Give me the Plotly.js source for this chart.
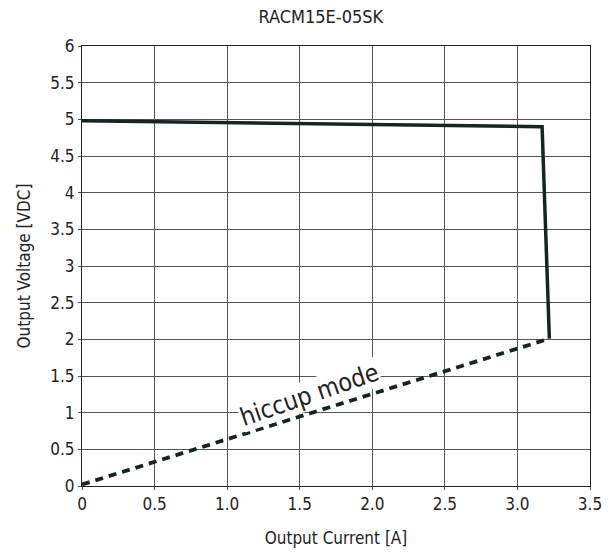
<!DOCTYPE html>
<html>
<head>
<script src="https://cdn.plot.ly/plotly-3.0.1.min.js"></script>
<style>html,body{margin:0;padding:0;background:#fff;}</style>
</head>
<body>
<div id="chart" style="width:611px;height:559px;"></div>
<script>
var chartTitle = "RACM15E-05SK";
var normalCurrent = [0, 3.17, 3.22];
var normalVoltage = [4.98, 4.90, 2.01];
var hiccupCurrent = [0, 3.22];
var hiccupVoltage = [0.02, 2.01];
var xTickVals = [0, 0.5, 1.0, 1.5, 2.0, 2.5, 3.0, 3.5];
var xTickText = ["0", "0.5", "1.0", "1.5", "2.0", "2.5", "3.0", "3.5"];
var yTickVals = [0, 0.5, 1, 1.5, 2, 2.5, 3, 3.5, 4, 4.5, 5, 5.5, 6];
var yTickText = ["0", "0.5", "1", "1.5", "2", "2.5", "3", "3.5", "4", "4.5", "5", "5.5", "6"];
var annText = "hiccup mode";
var annPos = [1.57, 1.25];

var fnt = "'DejaVu Sans Condensed', 'Liberation Sans Narrow', 'Roboto', sans-serif";
var lineColor = "#172424";

var traces = [
  {x: normalCurrent, y: normalVoltage, mode: "lines", line: {color: lineColor, width: 3.5}, hoverinfo: "none"},
  {x: hiccupCurrent, y: hiccupVoltage, mode: "lines", line: {color: lineColor, width: 3.8, dash: "8px,6px"}, hoverinfo: "none"}
];

var layout = {
  width: 611, height: 559,
  margin: {l: 82, r: 21, t: 46, b: 73},
  paper_bgcolor: "#fff", plot_bgcolor: "#fff",
  showlegend: false,
  font: {family: fnt, color: "#222", size: 16},
  title: {text: chartTitle, x: 0.525, xanchor: "center", y: 0.97, yanchor: "middle", font: {family: fnt, size: 18, color: "#222"}},
  xaxis: {
    range: [0, 3.5], tickvals: xTickVals, ticktext: xTickText,
    showgrid: true, gridcolor: "#555", gridwidth: 1,
    showline: true, linecolor: "#222", linewidth: 1, mirror: true,
    zeroline: false, ticks: "outside", ticklen: 3, tickcolor: "#555",
    tickfont: {family: fnt, size: 17, color: "#222"},
    title: {text: "Output Current [A]", font: {family: fnt, size: 17, color: "#222"}, standoff: 18}
  },
  yaxis: {
    range: [0, 6], tickvals: yTickVals, ticktext: yTickText,
    showgrid: true, gridcolor: "#555", gridwidth: 1,
    showline: true, linecolor: "#222", linewidth: 1, mirror: true,
    zeroline: false, ticks: "outside", ticklen: 3, tickcolor: "#555",
    tickfont: {family: fnt, size: 17, color: "#222"},
    title: {text: "Output Voltage [VDC]", font: {family: fnt, size: 17, color: "#222"}, standoff: 15}
  },
  annotations: [{
    x: annPos[0], y: annPos[1], xref: "x", yref: "y",
    text: annText, showarrow: false, textangle: -19,
    font: {family: fnt, size: 25, color: "#222"},
    bgcolor: "#fff", borderpad: 0
  }]
};

Plotly.newPlot("chart", traces, layout, {displayModeBar: false, staticPlot: true});
</script>
</body>
</html>
